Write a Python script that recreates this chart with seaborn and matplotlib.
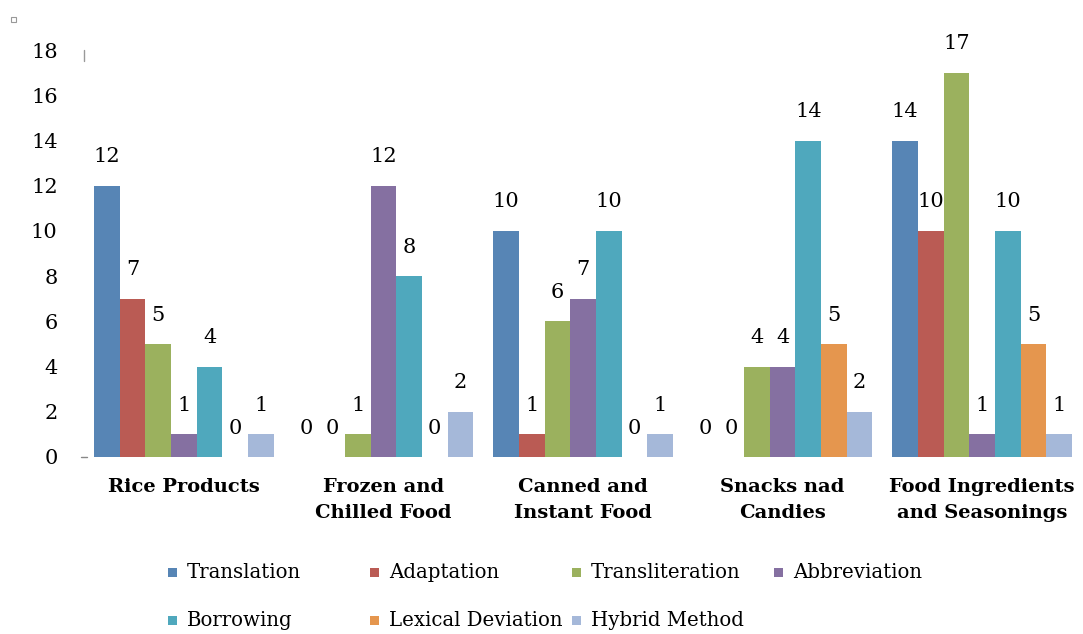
import matplotlib
matplotlib.use("Agg")
import matplotlib.pyplot as plt
from matplotlib.patches import Rectangle
import seaborn as sns
import pandas as pd

categories = [
    "Rice Products",
    "Frozen and\nChilled Food",
    "Canned and\nInstant Food",
    "Snacks nad\nCandies",
    "Food Ingredients\nand Seasonings",
]
methods = [
    "Translation", "Adaptation", "Transliteration", "Abbreviation",
    "Borrowing", "Lexical Deviation", "Hybrid Method",
]
translation = [12, 0, 10, 0, 14]
adaptation = [7, 0, 1, 0, 10]
transliteration = [5, 1, 6, 4, 17]
abbreviation = [1, 12, 7, 4, 1]
borrowing = [4, 8, 10, 14, 10]
lexical_deviation = [0, 0, 0, 5, 5]
hybrid_method = [1, 2, 1, 2, 1]
y_ticks = [0, 2, 4, 6, 8, 10, 12, 14, 16, 18]

colors = ["#5785B5", "#BA5B54", "#9BB15E", "#8570A1",
          "#4FA8BD", "#E5964E", "#A5B8D9"]

series = [translation, adaptation, transliteration, abbreviation,
          borrowing, lexical_deviation, hybrid_method]
rows = []
for name, vals in zip(methods, series):
    for cat, v in zip(categories, vals):
        rows.append({"category": cat, "method": name, "count": v})
df = pd.DataFrame(rows)

sns.set_style("white")
plt.rcParams["font.family"] = ["DejaVu Serif"]
plt.rcParams["text.color"] = "black"
plt.rcParams["xtick.color"] = "black"
plt.rcParams["ytick.color"] = "black"

fig = plt.figure(figsize=(10.83, 6.34), dpi=100)
ax = fig.add_axes([0.0776, 0.2792, 0.9215, 0.6418])

sns.barplot(data=df, x="category", y="count", hue="method",
            order=categories, hue_order=methods, palette=colors,
            width=0.9, saturation=1, errorbar=None, legend=False,
            linewidth=0, ax=ax)

for cont in ax.containers:
    ax.bar_label(cont, fmt="%d", padding=14, fontsize=15, clip_on=False)

ax.set_xlim(-0.5, 4.5)
ax.set_ylim(0, 18)
ax.set_yticks(y_ticks)
ax.set_xlabel("")
ax.set_ylabel("")
ax.tick_params(axis="y", length=0, pad=19, labelsize=15)
ax.tick_params(axis="x", length=0, pad=15)
for lbl in ax.get_xticklabels():
    lbl.set_fontweight("bold")
    lbl.set_fontsize(14)
    lbl.set_linespacing(1.6)
for s in ax.spines.values():
    s.set_visible(False)

# small gray marks at the axis edge
ax.plot([-0.515, -0.485], [0, 0], color="#888888", lw=1, clip_on=False)
ax.plot([-0.5, -0.5], [17.5, 18.0], color="#999999", lw=1, clip_on=False)
fig.patches.append(Rectangle((11 / 1083, 1 - 22 / 634), 5 / 1083, 5 / 634,
                             transform=fig.transFigure, facecolor="white",
                             edgecolor="#999999", lw=0.8))

# legend laid out in fixed columns
W, H = 1083, 634
col_x = [168, 370, 572, 774]
row_y = [573, 621]
for i, (name, c) in enumerate(zip(methods, colors)):
    r, k = divmod(i, 4)
    x0, y0 = col_x[k], row_y[r]
    fig.patches.append(Rectangle((x0 / W, 1 - (y0 + 4) / H), 9 / W, 9 / H,
                                 transform=fig.transFigure, facecolor=c,
                                 edgecolor="none"))
    fig.text((x0 + 19) / W, 1 - y0 / H, name, fontsize=14.2,
             va="center", ha="left")

fig.savefig("out.png", dpi=100)
